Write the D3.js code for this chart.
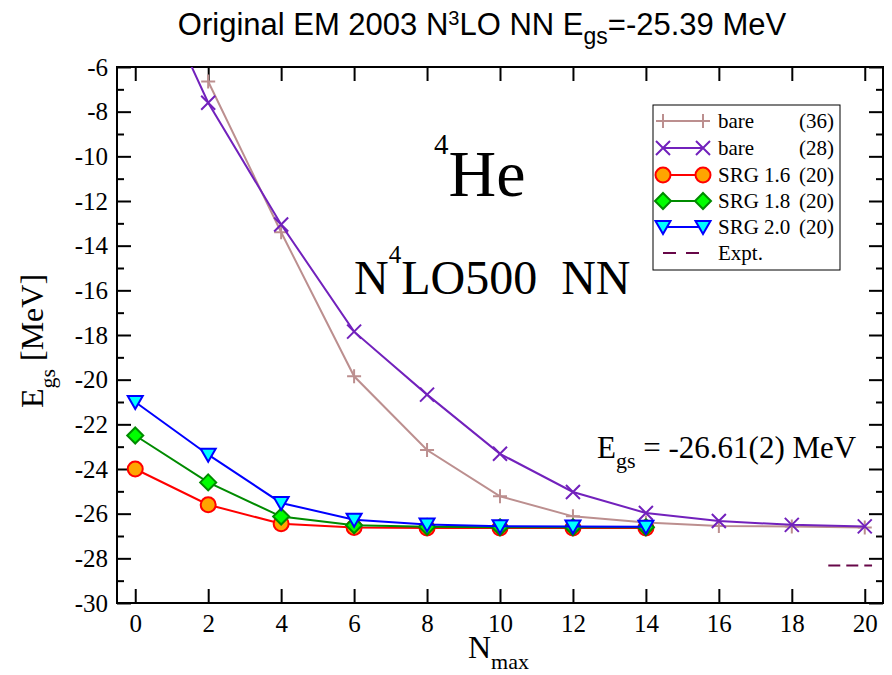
<!DOCTYPE html>
<html>
<head>
<meta charset="utf-8">
<script src="https://cdn.jsdelivr.net/npm/d3@7"></script>
<style>
body{margin:0;background:#fff;}
.axis path{display:none;}
.axis line{stroke:#000;stroke-width:2;}
.axis text{font-family:"Liberation Serif",serif;font-size:25px;fill:#000;}
</style>
</head>
<body>
<div id="chart"></div>
<script>
// data
var nmaxBare36=[2,4,6,8,10,12,14,16,18,20];
var egsBare36=[-6.65,-13.4,-19.85,-23.15,-25.22,-26.12,-26.4,-26.55,-26.58,-26.62];
var nmaxBare28=[0,2,4,6,8,10,12,14,16,18,20];
var egsBare28=[-0.5,-7.6,-13.05,-17.85,-20.67,-23.32,-25.03,-25.97,-26.33,-26.5,-26.57];
var nmaxSrg=[0,2,4,6,8,10,12,14];
var egsSrg16=[-24.0,-25.6,-26.45,-26.62,-26.64,-26.64,-26.64,-26.64];
var egsSrg18=[-22.5,-24.6,-26.13,-26.52,-26.59,-26.61,-26.61,-26.61];
var egsSrg20=[-21.0,-23.36,-25.52,-26.27,-26.48,-26.56,-26.58,-26.59];
var exptNmax=[19,20.2];
var exptEgs=-28.32;
var xTicks=[0,2,4,6,8,10,12,14,16,18,20];
var yTicks=[-30,-28,-26,-24,-22,-20,-18,-16,-14,-12,-10,-8,-6];
var yMinor=[-29,-27,-25,-23,-21,-19,-17,-15,-13,-11,-9,-7];

// set SVG dimension
var svgWidth=892;
var svgHeight=675;

// plot frame
var frame={left:117,right:883,top:67,bottom:603};

var svg=d3.select("#chart")
.append("svg")
.attr("width",svgWidth)
.attr("height",svgHeight);

// scales
var x=d3.scaleLinear().domain([-0.5,20.5]).range([frame.left,frame.right]);
var y=d3.scaleLinear().domain([-30,-6]).range([frame.bottom,frame.top]);

// clip for lines leaving the top
svg.append("clipPath").attr("id","plotClip")
.append("rect")
.attr("x",frame.left).attr("y",frame.top)
.attr("width",frame.right-frame.left).attr("height",frame.bottom-frame.top);

// axes, ticks pointing inward
function styleAxis(g) {
    g.attr("font-family","Liberation Serif").attr("font-size",25);
}
svg.append("g").attr("class","axis")
.attr("transform",`translate(0,${frame.bottom})`)
.call(d3.axisBottom(x).tickValues(xTicks).tickSize(-14).tickPadding(11).tickFormat(d=>String(d)))
.call(styleAxis);
svg.append("g").attr("class","axis")
.attr("transform",`translate(0,${frame.top})`)
.call(d3.axisTop(x).tickValues(xTicks).tickSize(-14).tickFormat(""));
svg.append("g").attr("class","axis")
.attr("transform",`translate(${frame.left},0)`)
.call(d3.axisLeft(y).tickValues(yTicks).tickSize(-14).tickPadding(9).tickFormat(d=>String(d)))
.call(styleAxis);
svg.append("g").attr("class","axis")
.attr("transform",`translate(${frame.left},0)`)
.call(d3.axisLeft(y).tickValues(yMinor).tickSize(-7).tickFormat(""));
svg.append("g").attr("class","axis")
.attr("transform",`translate(${frame.right},0)`)
.call(d3.axisRight(y).tickValues(yTicks).tickSize(-14).tickFormat(""));
svg.append("g").attr("class","axis")
.attr("transform",`translate(${frame.right},0)`)
.call(d3.axisRight(y).tickValues(yMinor).tickSize(-7).tickFormat(""));

// frame
svg.append("rect")
.attr("x",frame.left).attr("y",frame.top)
.attr("width",frame.right-frame.left).attr("height",frame.bottom-frame.top)
.attr("fill","none").attr("stroke","#000").attr("stroke-width",2);

// marker drawing
function drawMarker(g,type,cx,cy,color,fill) {
    if (type==="plus") {
        g.append("path")
        .attr("d",`M${cx-7},${cy}H${cx+7}M${cx},${cy-7}V${cy+7}`)
        .attr("stroke",color).attr("stroke-width",2).attr("fill","none");
    }
    else if (type==="cross") {
        g.append("path")
        .attr("d",`M${cx-7},${cy-7}L${cx+7},${cy+7}M${cx-7},${cy+7}L${cx+7},${cy-7}`)
        .attr("stroke",color).attr("stroke-width",2).attr("fill","none");
    }
    else if (type==="circle") {
        g.append("circle")
        .attr("cx",cx).attr("cy",cy).attr("r",7.5)
        .attr("stroke",color).attr("stroke-width",2).attr("fill",fill);
    }
    else if (type==="diamond") {
        g.append("path")
        .attr("d",`M${cx},${cy-8}L${cx+8},${cy}L${cx},${cy+8}L${cx-8},${cy}Z`)
        .attr("stroke",color).attr("stroke-width",2).attr("fill",fill);
    }
    else if (type==="triangle") {
        g.append("path")
        .attr("d",`M${cx-7.5},${cy-6}L${cx+7.5},${cy-6}L${cx},${cy+7}Z`)
        .attr("stroke",color).attr("stroke-width",2).attr("fill",fill);
    }
}

var series=[
    {name:"bare",n:"(36)",nmax:nmaxBare36,egs:egsBare36,color:"#bc8f8f",fill:"none",marker:"plus"},
    {name:"bare",n:"(28)",nmax:nmaxBare28,egs:egsBare28,color:"#7221bc",fill:"none",marker:"cross"},
    {name:"SRG 1.6",n:"(20)",nmax:nmaxSrg,egs:egsSrg16,color:"#ff0000",fill:"#ffa500",marker:"circle"},
    {name:"SRG 1.8",n:"(20)",nmax:nmaxSrg,egs:egsSrg18,color:"#008b00",fill:"#00ff00",marker:"diamond"},
    {name:"SRG 2.0",n:"(20)",nmax:nmaxSrg,egs:egsSrg20,color:"#0000ff",fill:"#00ffff",marker:"triangle"}
];

var line=d3.line().x(d=>x(d[0])).y(d=>y(d[1]));
var plotGroup=svg.append("g").attr("clip-path","url(#plotClip)");

series.forEach(function(s) {
    var pts=s.nmax.map((n,i)=>[n,s.egs[i]]);
    plotGroup.append("path")
    .attr("d",line(pts))
    .attr("fill","none")
    .attr("stroke",s.color)
    .attr("stroke-width",2);
    pts.forEach(function(p) {
        drawMarker(plotGroup,s.marker,x(p[0]),y(p[1]),s.color,s.fill);
    });
});

// experiment
plotGroup.append("line")
.attr("x1",x(exptNmax[0])).attr("x2",x(exptNmax[1]))
.attr("y1",y(exptEgs)).attr("y2",y(exptEgs))
.attr("stroke","#670748").attr("stroke-width",2)
.attr("stroke-dasharray","12,6");

// legend
var legend=svg.append("g");
legend.append("rect")
.attr("x",653).attr("y",105).attr("width",187).attr("height",165)
.attr("fill","#fff").attr("stroke","#000").attr("stroke-width",1);
var rowY=[121,148,175,201,227,253];
series.forEach(function(s,i) {
    var ry=rowY[i];
    legend.append("line")
    .attr("x1",663).attr("x2",703).attr("y1",ry).attr("y2",ry)
    .attr("stroke",s.color).attr("stroke-width",2);
    drawMarker(legend,s.marker,663,ry,s.color,s.fill);
    drawMarker(legend,s.marker,703,ry,s.color,s.fill);
    legend.append("text")
    .attr("x",718).attr("y",ry+7)
    .style("font-family","Liberation Serif").style("font-size","21px")
    .text(s.name);
    legend.append("text")
    .attr("x",834).attr("y",ry+7)
    .attr("text-anchor","end")
    .style("font-family","Liberation Serif").style("font-size","21px")
    .text(s.n);
});
legend.append("line")
.attr("x1",663).attr("x2",703).attr("y1",rowY[5]).attr("y2",rowY[5])
.attr("stroke","#670748").attr("stroke-width",2)
.attr("stroke-dasharray","13,10");
legend.append("text")
.attr("x",718).attr("y",rowY[5]+7)
.style("font-family","Liberation Serif").style("font-size","21px")
.text("Expt.");

// title
var title=svg.append("text")
.attr("x",482).attr("y",35)
.attr("text-anchor","middle")
.style("font-family","Liberation Sans").style("font-size","31px");
title.append("tspan").text("Original EM 2003 N");
title.append("tspan").attr("dy",-10).style("font-size","20px").text("3");
title.append("tspan").attr("dy",10).text("LO NN E");
title.append("tspan").attr("dy",9).style("font-size","23px").text("gs");
title.append("tspan").attr("dy",-9).text("=-25.39 MeV");

// 4He label
var he=svg.append("text")
.attr("x",434).attr("y",196)
.style("font-family","Liberation Serif").style("font-size","66px");
he.append("tspan").attr("dy",-42).style("font-size","29px").text("4");
he.append("tspan").attr("dy",42).text("He");

// N4LO500 NN label
var nlo=svg.append("text")
.attr("x",354).attr("y",294)
.style("font-family","Liberation Serif").style("font-size","48px");
nlo.append("tspan").text("N");
nlo.append("tspan").attr("dy",-31).style("font-size","25px").text("4");
nlo.append("tspan").attr("dy",31).text("LO500\u00a0\u00a0NN");

// ground state energy
var egsText=svg.append("text")
.attr("x",597).attr("y",458)
.style("font-family","Liberation Serif").style("font-size","31px");
egsText.append("tspan").text("E");
egsText.append("tspan").attr("dy",10).style("font-size","22px").text("gs");
egsText.append("tspan").attr("dy",-10).text(" = -26.61(2) MeV");

// x axis label
var xLabel=svg.append("text")
.attr("x",468).attr("y",658)
.style("font-family","Liberation Serif").style("font-size","32px");
xLabel.append("tspan").text("N");
xLabel.append("tspan").attr("dy",11).style("font-size","22px").text("max");

// y axis label
var yLabel=svg.append("text")
.attr("transform","translate(43,341) rotate(-90)")
.attr("text-anchor","middle")
.style("font-family","Liberation Serif").style("font-size","32px");
yLabel.append("tspan").text("E");
yLabel.append("tspan").attr("dy",12).style("font-size","22px").text("gs");
yLabel.append("tspan").attr("dy",-12).text(" [MeV]");
</script>
</body>
</html>
